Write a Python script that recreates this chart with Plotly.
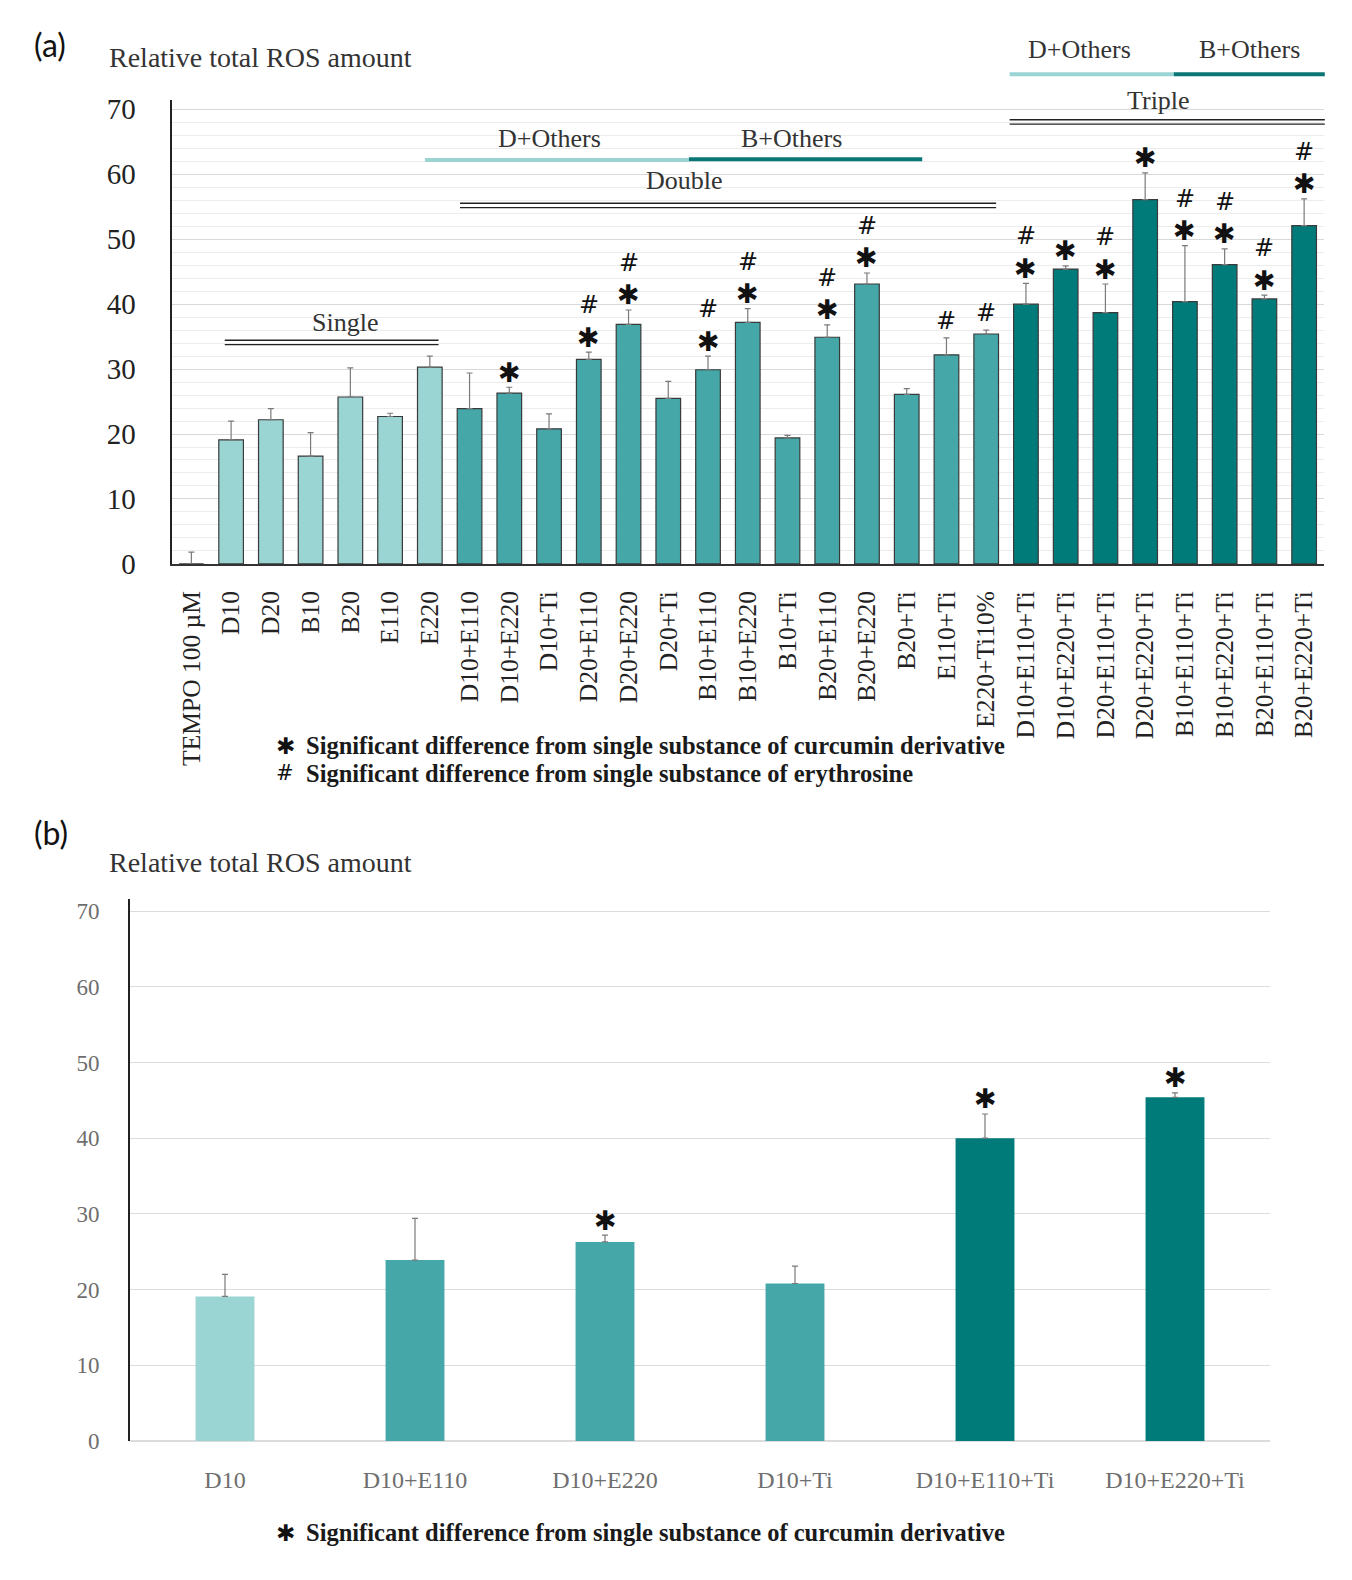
import plotly.graph_objects as go

# ---------------- data ----------------
cats_a = ["TEMPO 100 µM", "D10", "D20", "B10", "B20", "E110", "E220",
          "D10+E110", "D10+E220", "D10+Ti", "D20+E110", "D20+E220", "D20+Ti",
          "B10+E110", "B10+E220", "B10+Ti", "B20+E110", "B20+E220", "B20+Ti",
          "E110+Ti", "E220+Ti10%",
          "D10+E110+Ti", "D10+E220+Ti", "D20+E110+Ti", "D20+E220+Ti",
          "B10+E110+Ti", "B10+E220+Ti", "B20+E110+Ti", "B20+E220+Ti"]
vals_a = [0.0, 19.1, 22.2, 16.6, 25.7, 22.7, 30.3,
          23.9, 26.3, 20.8, 31.5, 36.9, 25.5,
          29.9, 37.2, 19.4, 34.9, 43.1, 26.1,
          32.2, 35.4,
          40.0, 45.4, 38.7, 56.1,
          40.4, 46.1, 40.8, 52.1]
errs_a = [1.8, 2.9, 1.7, 3.6, 4.5, 0.5, 1.7,
          5.5, 0.9, 2.3, 1.1, 2.2, 2.6,
          2.1, 2.1, 0.4, 1.9, 1.7, 0.9,
          2.6, 0.6,
          3.2, 0.5, 4.4, 4.1,
          8.6, 2.4, 0.6, 4.1]
groups_a = ["control"] + ["single"] * 6 + ["double"] * 14 + ["triple"] * 8
star_a = [False, False, False, False, False, False, False,
          False, True, False, True, True, False,
          True, True, False, True, True, False,
          False, False,
          True, True, True, True,
          True, True, True, True]
hash_a = [False, False, False, False, False, False, False,
          False, False, False, True, True, False,
          True, True, False, True, True, False,
          True, True,
          True, False, True, False,
          True, True, True, True]

cats_b = ["D10", "D10+E110", "D10+E220", "D10+Ti", "D10+E110+Ti", "D10+E220+Ti"]
vals_b = [19.1, 23.9, 26.3, 20.8, 40.0, 45.4]
errs_b = [2.9, 5.5, 0.9, 2.3, 3.2, 0.6]
groups_b = ["single", "double", "double", "double", "triple", "triple"]
star_b = [False, False, True, False, True, True]

y_ticks = [0, 10, 20, 30, 40, 50, 60, 70]

# ---------------- styles / layout geometry ----------------
COLORS = {"control": "#9AD4D3", "single": "#9AD4D3", "double": "#45A7A8", "triple": "#007B7A"}
LIGHT_LINE = "#9AD4D3"
DARK_LINE = "#0B7676"
W, H = 1352, 1580

XA = (163.5 / W, 1316 / W)
YA = (1 - 557 / H, 1 - 86.7 / H)
YMAX_A = 71.37
XB = (122 / W, 1262 / W)
YB = (1 - 1447 / H, 1 - 896.7 / H)
YMAX_B = 71.65

SERIF = "Liberation Serif"
STAR_FONT = dict(family="DejaVu Sans", size=27, color="#111")
HASH_FONT = dict(family="DejaVu Sans", size=24, color="#111")


def px_a(idx):
    return XA[0] + (idx + 0.5) / len(cats_a) * (XA[1] - XA[0])


def py_a(v):
    return YA[0] + v / YMAX_A * (YA[1] - YA[0])


fig = go.Figure()

fig.add_trace(go.Bar(
    x=cats_a, y=vals_a, width=0.62,
    marker=dict(color=[COLORS[g] for g in groups_a], line=dict(color="#3a3a3a", width=1.2)),
    error_y=dict(type="data", symmetric=False, array=errs_a, arrayminus=[0] * len(errs_a),
                 color="#7a7a7a", thickness=1.2, width=3),
    xaxis="x", yaxis="y", showlegend=False, hoverinfo="x+y"))

fig.add_trace(go.Bar(
    x=cats_b, y=vals_b, width=0.31,
    marker=dict(color=[COLORS[g] for g in groups_b], line=dict(width=0)),
    error_y=dict(type="data", symmetric=False, array=errs_b, arrayminus=[0] * len(errs_b),
                 color="#7a7a7a", thickness=1.2, width=3),
    xaxis="x2", yaxis="y2", showlegend=False, hoverinfo="x+y"))

annotations = []
shapes = []

# significance marks
for c, v, e, s, h in zip(cats_a, vals_a, errs_a, star_a, hash_a):
    if s:
        annotations.append(dict(x=c, y=v + e, xref="x", yref="y", text="✱", showarrow=False,
                                yanchor="middle", yshift=15, font=STAR_FONT))
    if h:
        annotations.append(dict(x=c, y=v + e, xref="x", yref="y", text="#", showarrow=False,
                                yanchor="middle", yshift=47 if s else 17, font=HASH_FONT))
for c, v, e, s in zip(cats_b, vals_b, errs_b, star_b):
    if s:
        annotations.append(dict(x=c, y=v + e, xref="x2", yref="y2", text="✱", showarrow=False,
                                yanchor="middle", yshift=15, font=STAR_FONT))

# group brackets (double lines)
double_lines = [(0.84, 6.22, 34.1), (6.76, 20.25, 55.2), (20.59, 28.52, 68.06)]
for x0, x1, v in double_lines:
    for off in (-2.2, 2.2):
        yy = py_a(v) + off / H
        shapes.append(dict(type="line", xref="paper", yref="paper", x0=px_a(x0), x1=px_a(x1),
                           y0=yy, y1=yy, line=dict(color="#222", width=1.4)))
colored_lines = [(5.88, 12.52, 62.2, LIGHT_LINE), (12.52, 18.39, 62.3, DARK_LINE),
                 (20.59, 24.72, 75.4, LIGHT_LINE), (24.72, 28.52, 75.4, DARK_LINE)]
for x0, x1, v, col in colored_lines:
    shapes.append(dict(type="line", xref="paper", yref="paper", x0=px_a(x0), x1=px_a(x1),
                       y0=py_a(v), y1=py_a(v), line=dict(color=col, width=4)))
group_labels = [("Single", 3.86, 37.2), ("Double", 12.4, 59.0), ("Triple", 24.33, 71.4),
                ("D+Others", 9.02, 65.5), ("B+Others", 15.09, 65.5),
                ("D+Others", 22.35, 79.2), ("B+Others", 26.63, 79.2)]
for t, xi, v in group_labels:
    annotations.append(dict(x=px_a(xi), y=py_a(v), xref="paper", yref="paper", text=t,
                            showarrow=False, xanchor="center", yanchor="middle",
                            font=dict(family=SERIF, size=26, color="#333")))

# panel labels and titles
for lab, yy in (("(a)", 30), ("(b)", 830)):
    annotations.append(dict(x=24 / W, y=1 - yy / H, xref="paper", yref="paper", text=lab,
                            showarrow=False, xanchor="left", yanchor="middle",
                            font=dict(family="Lato", size=32, color="#111")))
for yy in (43.3, 860):
    annotations.append(dict(x=99 / W, y=1 - yy / H, xref="paper", yref="paper",
                            text="Relative total ROS amount", showarrow=False,
                            xanchor="left", yanchor="middle",
                            font=dict(family=SERIF, size=28, color="#333")))

# footnotes
notes = [("✱", "Significant difference from single substance of curcumin derivative", 741.7),
         ("#", "Significant difference from single substance of erythrosine", 769.5),
         ("✱", "Significant difference from single substance of curcumin derivative", 1540)]
for sym, txt, yy in notes:
    annotations.append(dict(x=277 / W, y=1 - yy / H, xref="paper", yref="paper", text=sym,
                            showarrow=False, xanchor="center", yanchor="middle",
                            font=dict(family="DejaVu Sans", size=23 if sym == "✱" else 21,
                                      color="#111")))
    annotations.append(dict(x=296 / W, y=1 - yy / H, xref="paper", yref="paper", text="<b>" + txt + "</b>",
                            showarrow=False, xanchor="left", yanchor="middle",
                            font=dict(family=SERIF, size=24.5, color="#1a1a1a")))

fig.update_layout(
    width=W, height=H, autosize=False,
    margin=dict(l=0, r=0, t=0, b=0),
    paper_bgcolor="white", plot_bgcolor="white",
    showlegend=False,
    xaxis=dict(domain=list(XA), anchor="y", type="category", range=[-0.5, len(cats_a) - 0.5],
               tickangle=-90, tickfont=dict(family=SERIF, size=25.5, color="#222"),
               showline=True, linecolor="#333", linewidth=2, ticks="", showgrid=False,
               ticklabelstandoff=15),
    yaxis=dict(domain=list(YA), anchor="x", range=[0, YMAX_A], tickvals=y_ticks,
               tickfont=dict(family=SERIF, size=29, color="#222"),
               showline=True, linecolor="#222", linewidth=2, ticks="",
               showgrid=True, gridcolor="#d9d9d9", gridwidth=1,
               minor=dict(dtick=2, showgrid=True, gridcolor="#ececec", gridwidth=1),
               zeroline=False, ticklabelstandoff=28),
    xaxis2=dict(domain=list(XB), anchor="y2", type="category", range=[-0.5, len(cats_b) - 0.5],
                tickfont=dict(family=SERIF, size=24, color="#6e6e6e"),
                showline=False, ticks="", showgrid=False, ticklabelstandoff=22),
    yaxis2=dict(domain=list(YB), anchor="x2", range=[0, YMAX_B], tickvals=y_ticks,
                tickfont=dict(family=SERIF, size=23, color="#6e6e6e"),
                showline=True, linecolor="#222", linewidth=2, ticks="",
                showgrid=True, gridcolor="#dcdcdc", gridwidth=1.2,
                zeroline=True, zerolinecolor="#dcdcdc", zerolinewidth=1.5,
                ticklabelstandoff=24),
    annotations=annotations,
    shapes=shapes,
)

fig.write_html("out.html")
